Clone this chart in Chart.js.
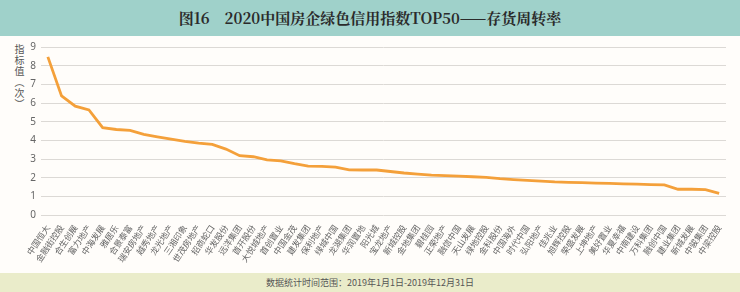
<!DOCTYPE html>
<html>
<head>
<meta charset="utf-8">
<script src="https://cdn.jsdelivr.net/npm/chart.js@4/dist/chart.umd.min.js"></script>
<style>
  body { margin: 0; width: 740px; height: 292px; background: #fffdfa; font-family: "Noto Sans CJK SC", "Noto Sans", sans-serif; overflow: hidden; }
  #title { position: absolute; left: 0; top: 0; width: 740px; height: 36px; background: #9fd1ca; color: #2b2b2b; font-family: "Noto Serif CJK SC", "Noto Sans CJK SC", serif; font-weight: bold; font-size: 15px; line-height: 36px; text-align: center; }
  #footer { position: absolute; left: 0; top: 273px; width: 740px; height: 19px; background: #eaecca; color: #555; font-size: 9px; line-height: 19px; text-align: center; }
  #ytitle { position: absolute; left: 12px; top: 44px; writing-mode: vertical-rl; font-size: 10px; color: #555; letter-spacing: 1px; }
  #wrap { position: absolute; left: 0; top: 36px; width: 740px; height: 237px; }
</style>
</head>
<body>
<div id="title">图16&nbsp;&nbsp;&nbsp;&nbsp;2020中国房企绿色信用指数TOP50——存货周转率</div>
<div id="ytitle">指标值（次）</div>
<div id="wrap"><canvas id="turnoverChart"></canvas></div>
<div id="footer">数据统计时间范围：2019年1月1日-2019年12月31日</div>
<script>
const companies = [
    '中国恒大', '金融街控股', '合生创展', '富力地产', '中海发展', '雅居乐', '合景泰富', '瑞安房地产', '越秀地产', '龙光地产',
    '三湘印象', '世茂房地产', '招商蛇口', '华发股份', '远洋集团', '首开股份', '大悦城地产', '首创置业', '中国金茂', '建发集团',
    '保利地产', '绿城中国', '龙湖集团', '华润置地', '阳光城', '宝龙地产', '新城控股', '金地集团', '碧桂园', '正荣地产',
    '融信中国', '天山发展', '绿地控股', '金科股份', '中国海外', '时代中国', '弘阳地产', '佳兆业', '旭辉控股', '荣盛发展',
    '上坤地产', '美好置业', '华夏幸福', '中南建设', '万科集团', '融创中国', '建业集团', '新城发展', '中骏集团', '中梁控股'
];

const turnover = [
    8.47, 6.38, 5.83, 5.63, 4.68, 4.58, 4.53, 4.32, 4.19, 4.07,
    3.95, 3.85, 3.78, 3.53, 3.18, 3.12, 2.95, 2.90, 2.75, 2.62,
    2.60, 2.57, 2.42, 2.41, 2.41, 2.33, 2.25, 2.19, 2.14, 2.11,
    2.08, 2.05, 2.02, 1.95, 1.90, 1.86, 1.82, 1.77, 1.75, 1.73,
    1.71, 1.69, 1.67, 1.65, 1.63, 1.61, 1.38, 1.38, 1.36, 1.16
];

const yTicks = [0, 1, 2, 3, 4, 5, 6, 7, 8, 9];

let ctx = document.getElementById('turnoverChart').getContext('2d');
let turnoverChart = new Chart(ctx, {
    type: 'line',
    data: {
        labels: companies,
        datasets: [{
            data: turnover,
            borderColor: '#f4a03a',
            borderWidth: 2.8,
            pointRadius: 0,
            tension: 0,
            fill: false
        }]
    },
    options: {
        responsive: true,
        maintainAspectRatio: false,
        animation: false,
        layout: { padding: { top: 8, right: 14, left: 0, bottom: 0 } },
        plugins: {
            legend: { display: false },
            tooltip: { enabled: false }
        },
        scales: {
            x: {
                offset: true,
                grid: { display: false },
                border: { display: false },
                ticks: {
                    autoSkip: false,
                    maxRotation: 56,
                    minRotation: 56,
                    padding: 0,
                    color: '#666',
                    font: { size: 8.5, family: 'Noto Sans CJK SC' }
                },
                afterFit: function (scale) { scale.height = 58; }
            },
            y: {
                min: 0,
                max: 9,
                afterBuildTicks: function (scale) { scale.ticks = yTicks.map(v => ({ value: v })); },
                grid: { color: '#dcd9d5', drawTicks: false },
                border: { display: false },
                ticks: {
                    padding: 5,
                    color: '#666',
                    font: { size: 10, family: 'Noto Sans' }
                },
                afterFit: function (scale) { scale.width = 41; }
            }
        }
    }
});
</script>
</body>
</html>
